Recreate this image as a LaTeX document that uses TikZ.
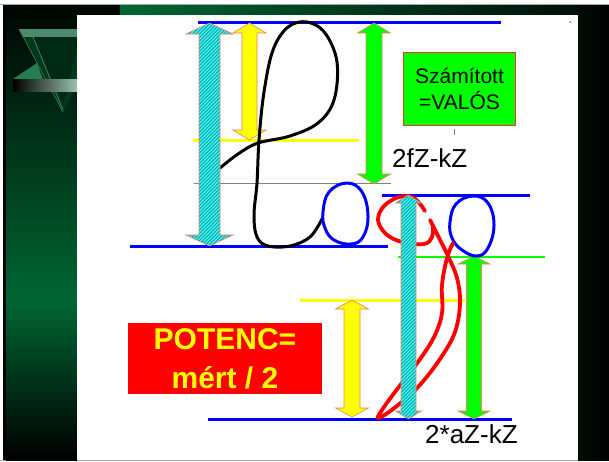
\documentclass[tikz,border=0pt]{standalone}
\usepackage{fontspec}
\setmainfont{Liberation Sans}
\usetikzlibrary{patterns}
\definecolor{slgreen}{HTML}{006633}
\definecolor{arredge}{HTML}{F08060}
\definecolor{hatch}{HTML}{1E9A9A}
\definecolor{brcyan}{HTML}{33FFFF}
\definecolor{brgreen}{HTML}{00FF00}
\definecolor{brblue}{HTML}{0000FF}
\definecolor{brred}{HTML}{FF0000}
\definecolor{boxedge}{HTML}{E83A2A}
\definecolor{bryellow}{HTML}{FFFF00}
\pgfdeclarepatternformonly{hatchne}{\pgfqpoint{-1pt}{-1pt}}{\pgfqpoint{4.5pt}{4.5pt}}{\pgfqpoint{3.5pt}{3.5pt}}{%
  \pgfsetlinewidth{0.8pt}%
  \pgfpathmoveto{\pgfqpoint{-0.2pt}{-0.2pt}}\pgfpathlineto{\pgfqpoint{3.7pt}{3.7pt}}\pgfusepath{stroke}}
\newcommand{\dblarr}[7]{\path[#1] ({#2-#6},{#3+#7}) -- (#2,#3) -- ({#2+#6},{#3+#7}) -- ({#2+#5},{#3+#7}) -- ({#2+#5},{#4-#7}) -- ({#2+#6},{#4-#7}) -- (#2,#4) -- ({#2-#6},{#4-#7}) -- ({#2-#5},{#4-#7}) -- ({#2-#5},{#3+#7}) -- cycle;}
\tikzset{
  cyanarr/.style={preaction={fill=brcyan}, pattern=hatchne, pattern color=hatch, draw=arredge, line width=0.6pt},
  yelarr/.style={fill=bryellow, draw=arredge, line width=0.6pt},
  grnarr/.style={fill=brgreen, draw=arredge, line width=0.6pt},
  bline/.style={draw=brblue, line width=3pt},
  yline/.style={draw=bryellow, line width=3pt},
  pen/.style={line width=3pt, line cap=round, line join=round},
  redpen/.style={draw=brred, line width=3.8pt, line cap=round, line join=round},
  lbl/.style={inner sep=0pt, font=\fontsize{26}{30}\selectfont},
}
\begin{document}
\begin{tikzpicture}[x=1pt,y=-1pt]
\useasboundingbox (0,0) rectangle (609,461);
% ---------- background slide ----------
\fill[white] (0,0) rectangle (609,461);
\fill[black!92!slgreen] (3,4) rectangle (609,460);
\draw[gray!70, line width=1pt] (0,4.5) -- (609,4.5);
\draw[gray!70, line width=1pt] (0,460.5) -- (609,460.5);
\shade[top color=black!92!slgreen, bottom color=slgreen] (6,15) rectangle (77,300);
\shade[top color=slgreen, bottom color=black] (6,300) rectangle (77,460);
\shade[left color=slgreen, right color=black!85!slgreen] (120,5) rectangle (578,15);
\shade[left color=black!88!slgreen, right color=black] (578,5) rectangle (609,460);
\fill[black] (3,5) rectangle (6,460);
% logo
\fill[slgreen!55!black] (19,29) -- (107,29) -- (63,112) -- cycle;
\fill[slgreen!75!white!80!gray] (19,29) -- (107,29) -- (103,37) -- (23,37) -- cycle;
\fill[slgreen!40!black] (33,37) -- (80,37) -- (63,105) -- cycle;
\draw[slgreen!80!white, line width=0.8pt] (33,37) -- (63,110);
\draw[slgreen!80!white, line width=0.6pt] (19,29) -- (63,112);
\fill[slgreen!85!white] (13,79) -- (37,63) -- (43,79) -- cycle;
\shade[left color=black, right color=slgreen!40!white] (13,79) rectangle (77,91);
% white panel
\fill[white] (77,15) rectangle (578,460);
\fill[gray] (570,22) circle (1pt);
% ---------- diagram ----------
% horizontal reference lines
\draw[bline] (198,22) -- (501,22);
\draw[bline] (130,246) -- (388,246);
\draw[bline] (382,195) -- (530,195);
\draw[bline] (208,419) -- (512,419);
\draw[gray, line width=0.8pt] (194,183) -- (391,183);
\draw[brgreen, line width=1.2pt] (398,257) -- (545,257);
\draw[yline] (193,140) -- (359,140);
\draw[yline] (300,300) -- (465,300);
% yellow and green arrows
\dblarr{yelarr}{249.5}{23}{140}{7.5}{16.5}{10}
\dblarr{grnarr}{374}{23}{184}{8}{16.5}{10}
\dblarr{yelarr}{352}{300}{417}{8}{16.5}{9}
\dblarr{grnarr}{474}{256}{419}{7.5}{16}{8}
% black curve
\draw[pen] plot[smooth, tension=0.6] coordinates {(220,168) (238,154) (258,143) (290,136) (318,123) (334,100) (337,62) (325,33) (307,22) (288,27) (273,50) (264,92) (259,140) (257,183) (254,215) (257,237) (268,246) (290,246) (310,237) (322,219)};
% blue loops
\draw[pen, brblue] plot[smooth cycle, tension=0.7] coordinates {(323,212) (329,192) (347,183) (362,192) (368,216) (363,237) (351,244) (334,240) (325,228)};
\draw[pen, brblue] plot[smooth cycle, tension=0.7] coordinates {(450,222) (456,204) (473,196) (488,203) (494,225) (488,248) (477,256) (462,250) (452,238)};
% red curve
\draw[redpen] plot[smooth, tension=0.6] coordinates {(453,243) (447,258) (442,285) (442,313) (434,337) (418,362) (398,388) (384,407) (378,418) (393,409) (418,387) (440,359) (455,332) (460,303) (457,278) (448,256) (438,236) (430,220)};
\draw[redpen] plot[smooth, tension=0.6] coordinates {(425,211) (414,198) (399,197) (384,206) (378,220) (386,234) (402,242) (424,244) (432,237) (433,225)};
% cyan hatched arrows
\dblarr{cyanarr}{209.5}{23}{246}{10.5}{23.5}{11}
\dblarr{cyanarr}{408.5}{195}{419}{7.5}{13}{8}
% boxes and labels
\node[fill=brgreen, minimum width=111pt, minimum height=72pt, inner sep=0pt] (calc) at (459.5,89) {};
\draw[boxedge, line width=1.3pt] (calc.north west) rectangle (calc.south east);
\node[inner sep=0pt, align=center, font=\fontsize{21}{26}\selectfont] (calctxt) at (calc.center) {Számított\\=VALÓS};
\draw[gray, line width=0.6pt] (454,129) -- (454,135);
\node[lbl, anchor=base west] (fz) at (392,167) {2fZ-kZ};
\node[lbl, anchor=base west] (az) at (425,443) {2*aZ-kZ};
\node[fill=brred, minimum width=194pt, minimum height=71pt, inner sep=0pt] (pot) at (225,358.5) {};
\node[inner sep=0pt, align=center, text=bryellow, font=\fontsize{30}{39}\selectfont\bfseries] (pottxt) at (pot.center) {POTENC=\\mért / 2};
\end{tikzpicture}
\end{document}
